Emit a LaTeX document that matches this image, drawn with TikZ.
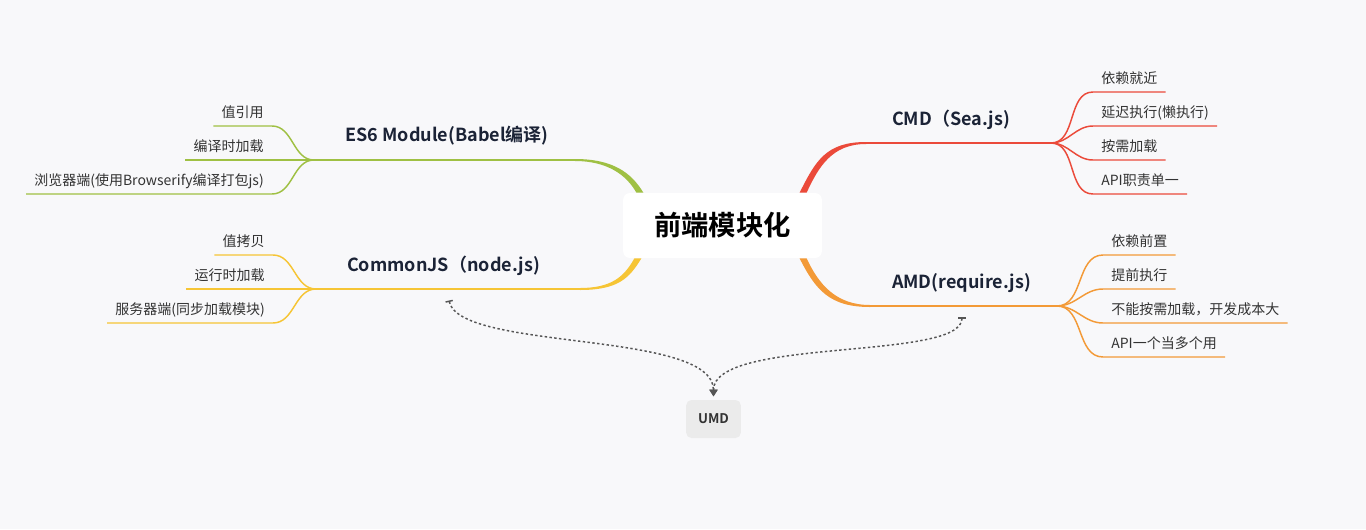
\documentclass[tikz,border=0pt]{standalone}
\usepackage{fontspec}
\setmainfont{Noto Sans CJK SC}[BoldFont={Noto Sans CJK SC Bold}]
\usetikzlibrary{calc,arrows.meta}

\definecolor{bgc}{HTML}{F8F8FA}
\definecolor{es6c}{HTML}{9FC043}
\definecolor{cjsc}{HTML}{F6C535}
\definecolor{cmdc}{HTML}{EB4A3A}
\definecolor{amdc}{HTML}{F39A37}
\definecolor{topictxt}{HTML}{1B2336}
\definecolor{leaftxt}{HTML}{333333}
\definecolor{linkc}{HTML}{555555}
\definecolor{umdfill}{HTML}{EBEBEB}

\tikzset{
  leaf/.style={inner xsep=6pt,inner ysep=4.5pt,text height=7.5pt,text depth=1.5pt,
    font=\fontsize{10.5}{12}\selectfont,text=leaftxt},
  topic/.style={font=\fontsize{13.5}{16}\selectfont\bfseries,text=topictxt},
  mainline/.style={line width=1.5pt},
  leafline/.style={line width=1.1pt},
  umdlink/.style={linkc,line width=1.1pt,dash pattern=on 1.8pt off 1.8pt,
    {Bar[width=5.5pt,line width=1.1pt]}-{Triangle[width=6pt,length=5pt]},shorten >=2.5pt}
}

\begin{document}
\begin{tikzpicture}[x=0.75pt,y=-0.75pt]
  \fill[bgc] (0,0) rectangle (1366,529);
  \useasboundingbox (0,0) rectangle (1366,529);

  % centre
  \node[fill=white,rounded corners=5pt,minimum width=149pt,minimum height=48.75pt,
    font=\fontsize{20.5}{24}\selectfont\bfseries] (root) at (722.5,225.5) {前端模块化};

  % ES6 branch
  \coordinate (es6r) at ($(root.north west)+(17,0)$);
  \coordinate (es6k) at (575,160);
  \coordinate (es6j) at (314,160);
  \fill[es6c] ($(es6k)+(0,-1)$) .. controls +(38,0) and +(-12,-20) .. ($(es6r)+(3.5,0)$)
    -- ($(es6r)+(-3.5,0)$) .. controls +(-10,-18) and +(32,0) .. ($(es6k)+(0,1)$) -- cycle;
  \draw[es6c,mainline] (es6k) -- (es6j);
  \node[topic] (es6) at (447,136) {ES6 Module(Babel编译)};
  \node[leaf,anchor=south east] (es6a) at (272,126) {值引用};
  \node[leaf,anchor=south east] (es6b) at (272,160) {编译时加载};
  \node[leaf,anchor=south east] (es6c) at (272,194) {浏览器端(使用Browserify编译打包js)};
  \foreach \n in {es6a,es6b,es6c}
    \draw[es6c,leafline] (es6j) to[out=180,in=0] (\n.south east) -- (\n.south west);

  % CommonJS branch
  \coordinate (cjsr) at ($(root.south west)+(15,0)$);
  \coordinate (cjsk) at (580,289);
  \coordinate (cjsj) at (316,289);
  \fill[cjsc] ($(cjsk)+(0,1)$) .. controls +(38,0) and +(-12,20) .. ($(cjsr)+(3.5,0)$)
    -- ($(cjsr)+(-3.5,0)$) .. controls +(-10,18) and +(32,0) .. ($(cjsk)+(0,-1)$) -- cycle;
  \draw[cjsc,mainline] (cjsk) -- (cjsj);
  \node[topic] (cjs) at (443.5,266) {CommonJS（node.js)};
  \node[leaf,anchor=south east] (cjsa) at (273,255) {值拷贝};
  \node[leaf,anchor=south east] (cjsb) at (273,289) {运行时加载};
  \node[leaf,anchor=south east] (cjsc) at (273,323) {服务器端(同步加载模块)};
  \foreach \n in {cjsa,cjsb,cjsc}
    \draw[cjsc,leafline] (cjsj) to[out=180,in=0] (\n.south east) -- (\n.south west);

  % CMD branch
  \coordinate (cmdr) at ($(root.north east)+(-19,0)$);
  \coordinate (cmdk) at (866,143);
  \coordinate (cmdj) at (1051,143);
  \fill[cmdc] ($(cmdk)+(0,-1)$) .. controls +(-40,0) and +(16,-32) .. ($(cmdr)+(-3.5,0)$)
    -- ($(cmdr)+(3.5,0)$) .. controls +(12,-26) and +(-34,0) .. ($(cmdk)+(0,1)$) -- cycle;
  \draw[cmdc,mainline] (cmdk) -- (cmdj);
  \node[topic] (cmd) at (951,120) {CMD（Sea.js)};
  \node[leaf,anchor=south west] (cmda) at (1093,92) {依赖就近};
  \node[leaf,anchor=south west] (cmdb) at (1093,126) {延迟执行(懒执行)};
  \node[leaf,anchor=south west] (cmdc) at (1093,160) {按需加载};
  \node[leaf,anchor=south west] (cmdd) at (1093,194) {API职责单一};
  \foreach \n in {cmda,cmdb,cmdc,cmdd}
    \draw[cmdc,leafline] (cmdj) to[out=0,in=180] (\n.south west) -- (\n.south east);

  % AMD branch
  \coordinate (amdr) at ($(root.south east)+(-19,0)$);
  \coordinate (amdk) at (870,306);
  \coordinate (amdj) at (1057,306);
  \fill[amdc] ($(amdk)+(0,1)$) .. controls +(-40,0) and +(16,32) .. ($(amdr)+(-3.5,0)$)
    -- ($(amdr)+(3.5,0)$) .. controls +(12,26) and +(-34,0) .. ($(amdk)+(0,-1)$) -- cycle;
  \draw[amdc,mainline] (amdk) -- (amdj);
  \node[topic] (amd) at (961.5,283) {AMD(require.js)};
  \node[leaf,anchor=south west] (amda) at (1103,255) {依赖前置};
  \node[leaf,anchor=south west] (amdb) at (1103,289) {提前执行};
  \node[leaf,anchor=south west] (amdc) at (1103,323) {不能按需加载，开发成本大};
  \node[leaf,anchor=south west] (amdd) at (1103,357) {API一个当多个用};
  \foreach \n in {amda,amdb,amdc,amdd}
    \draw[amdc,leafline] (amdj) to[out=0,in=180] (\n.south west) -- (\n.south east);

  % UMD
  \node[fill=umdfill,rounded corners=4pt,minimum width=41pt,minimum height=28.5pt,
    font=\fontsize{10}{12}\selectfont\bfseries,text=leaftxt] (umd) at (713.5,419) {UMD};
  \coordinate (cjsu) at ($(cjs.south)+(5.5,20)$);
  \coordinate (amdu) at ($(amd.south)+(0.5,20)$);
  \draw[umdlink] (cjsu) .. controls +(11,51) and +(0,-70) .. (umd.north);
  \draw[umdlink] (amdu) .. controls +(0,44) and +(0,-63) .. (umd.north);
\end{tikzpicture}
\end{document}
